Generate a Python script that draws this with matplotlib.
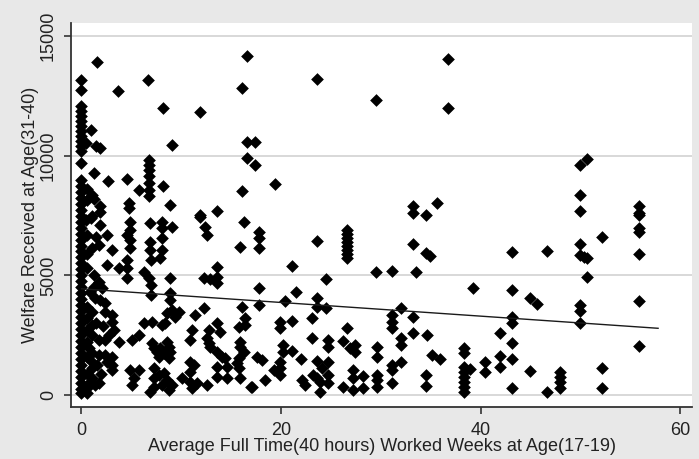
import matplotlib
matplotlib.use("Agg")
import matplotlib.pyplot as plt

plt.rcParams['font.family'] = ['Liberation Sans', 'DejaVu Sans']

# Points on the x = 0 column
col0_welfare = [13170, 12750, 12080, 11870, 11660, 11450, 11240, 11030, 10830, 10620,
                10410, 10200, 9700, 9000, 8750, 8500, 8250, 8000, 7750, 7500, 7250,
                7000, 6750, 6500, 6250, 6000, 5750, 5500, 5250, 5000, 4750, 4500,
                4250, 4000, 3750, 3500, 3250, 3000, 2750, 2500, 2250, 2000, 1750,
                1500, 1250, 1000, 750, 500, 250, 100]

# Points just right of the x = 0 column
col05_welfare = [8600, 5900, 5300, 3700, 3200, 2700, 2200, 1600, 900, 100]

# Remaining points: (weeks, welfare)
points = [
    (1.55, 13920), (16.6, 14170), (3.7, 12700), (6.7, 13170), (16.1, 12830),
    (8.2, 12000), (11.9, 11830), (0.95, 11080), (0.5, 10530), (1.5, 10400),
    (1.9, 10320), (9.1, 10450), (16.6, 10580), (17.4, 10580), (16.6, 9900),
    (17.4, 9600), (6.8, 9820), (6.8, 9610), (6.8, 9400), (6.8, 9150), (6.8, 8860),
    (6.8, 8570), (6.8, 8320), (1.25, 9280), (2.65, 8950), (4.6, 9030), (5.8, 8570),
    (8.2, 8740), (8.9, 7940), (4.8, 8030), (4.8, 7820), (1.05, 8360), (16.1, 8530),
    (19.4, 8820), (13.6, 7690), (11.9, 7520), (1.85, 7900),
    (23.6, 13210), (29.5, 12330), (36.7, 14040), (36.7, 12000), (33.2, 7900),
    (33.2, 7610), (34.5, 7520), (35.6, 8030),
    (50.0, 9610), (50.7, 9860), (50.0, 8360), (50.0, 7690), (55.9, 7900), (55.9, 7610),
    (43.2, 5980), (46.7, 6020), (50.0, 6310), (50.0, 5850), (50.4, 5770), (50.7, 5730),
    (52.2, 6600), (55.9, 7520), (55.9, 6980), (55.9, 6810), (55.9, 5890), (50.7, 4930),
    (43.2, 4390), (45.0, 4050), (45.7, 3800), (50.0, 3760), (50.0, 3510), (50.0, 3010),
    (55.9, 3930), (43.2, 3260), (43.2, 3010), (42.0, 2590), (43.2, 2170), (55.9, 2050),
    (42.0, 1630), (42.0, 1170), (43.2, 1500), (45.0, 1000), (48.0, 960), (48.0, 750),
    (48.0, 540), (48.0, 290), (52.2, 1130), (52.2, 290), (46.7, 130), (43.2, 290),
    (23.6, 6440), (26.6, 6900), (26.6, 6730), (26.6, 6560), (26.6, 6400), (26.6, 6230),
    (26.6, 6060), (26.6, 5890), (26.6, 5730), (33.2, 6310), (34.5, 5940), (34.9, 5810),
    (21.1, 5390), (24.5, 4850), (29.5, 5140), (31.1, 5180), (33.5, 5140), (39.2, 4470),
    (21.5, 4300), (20.4, 3930), (23.6, 4050), (23.6, 3680), (24.5, 3640), (32.0, 3640),
    (31.1, 3340), (31.1, 3050), (31.1, 2800), (33.2, 3260), (19.9, 3050), (19.9, 2800),
    (21.1, 3090), (23.1, 3220), (26.6, 2800), (33.2, 2590), (34.6, 2510), (23.1, 2380),
    (24.7, 2300), (24.7, 2010), (26.2, 2260), (26.9, 1960), (27.4, 1800), (27.4, 2090),
    (32.0, 2380), (32.0, 2090), (29.6, 2010), (29.6, 1590), (20.2, 2090), (20.2, 1800),
    (21.1, 1840), (35.1, 1670), (35.9, 1500), (38.3, 1960), (38.3, 1760), (40.4, 1380),
    (40.4, 960), (22.0, 1500), (23.6, 1420), (24.7, 1380), (24.1, 1130), (23.6, 710),
    (23.2, 840), (24.7, 840), (23.9, 540), (24.7, 500), (23.9, 130), (22.1, 630),
    (22.4, 420), (19.9, 1380), (19.9, 1130), (19.9, 840), (31.1, 1250), (31.1, 1050),
    (31.1, 500), (32.0, 1380), (27.2, 1050), (27.2, 710), (28.2, 790), (27.2, 210),
    (28.2, 290), (26.2, 330), (29.6, 840), (29.6, 630), (29.6, 330), (34.5, 840),
    (34.5, 380), (38.3, 1170), (38.3, 960), (38.3, 750), (38.3, 540), (38.3, 330),
    (38.3, 130), (38.9, 1090),
    (4.9, 7230), (4.9, 6900), (4.6, 6690), (6.9, 7190), (8.1, 7230), (8.1, 6980),
    (9.1, 7020), (11.9, 7440), (12.4, 7020), (12.6, 6690), (16.3, 7230), (17.8, 6810),
    (17.8, 6560), (17.8, 6140), (15.9, 6190), (0.55, 6690), (1.85, 7110), (2.55, 6690),
    (1.75, 6270), (3.05, 6060), (1.05, 6140), (4.9, 6140), (4.9, 6480), (6.9, 6400),
    (6.9, 6060), (8.1, 6560), (8.1, 6060), (7.9, 5730), (7.0, 5640), (2.55, 5430),
    (3.75, 5310), (4.6, 5640), (4.6, 5310), (4.6, 4890), (6.3, 5140), (6.8, 4890),
    (7.0, 4600), (7.0, 4180), (8.9, 4890), (13.6, 5350), (13.6, 4930), (13.6, 4680),
    (12.3, 4890), (12.9, 4850), (1.25, 5020), (1.75, 4720), (1.25, 4510), (2.05, 4470),
    (17.8, 4470), (8.9, 4260), (8.9, 3970), (9.1, 3550), (9.8, 3470), (8.6, 3430),
    (9.4, 3260), (8.4, 3010), (8.1, 2930), (7.1, 3050), (6.3, 3010), (12.3, 3640),
    (16.1, 3680), (17.8, 3760), (16.4, 3220), (16.4, 2930), (15.8, 2840), (11.4, 3340),
    (13.6, 3010), (13.9, 2630), (11.1, 2720), (10.9, 2300), (12.8, 2720), (12.6, 2380),
    (12.8, 2170), (12.9, 2010), (15.9, 2220), (15.9, 2010), (16.3, 1800), (13.6, 1800),
    (14.1, 1590), (14.4, 1550), (17.6, 1590), (18.1, 1460), (19.3, 1050), (15.8, 1550),
    (15.6, 1340), (15.8, 1130), (13.6, 1170), (14.6, 1170), (13.6, 750), (14.6, 710),
    (15.9, 710), (17.1, 330), (18.4, 630),
    (3.05, 3340), (3.05, 3050), (3.25, 2720), (2.75, 2510), (2.35, 2300), (3.75, 2220),
    (5.05, 2300), (5.75, 2510),
    (7.1, 2170), (7.3, 1960), (7.6, 1800), (7.9, 1960), (8.3, 1760), (8.6, 2220),
    (8.8, 2010), (8.9, 1800), (7.8, 1590), (8.8, 1550),
    (3.05, 1590), (3.05, 1250), (3.05, 1050), (2.55, 1380), (4.9, 1050), (5.75, 1050),
    (5.05, 420), (5.25, 710), (7.3, 1130), (7.3, 710), (7.8, 840), (8.3, 920),
    (8.6, 630), (9.1, 420), (7.3, 330), (6.9, 130), (8.1, 420), (8.8, 210),
    (10.1, 710), (10.9, 960), (10.9, 540), (11.6, 500), (11.1, 290), (12.6, 420),
    (11.3, 1250), (10.9, 1380), (17.0, 330), (1.05, 710), (1.75, 500), (0.85, 540),
    (0.85, 4300), (1.35, 4050), (1.85, 3970), (2.35, 3850), (1.05, 3470), (2.35, 3470),
    (1.05, 2930), (1.05, 2510), (1.75, 2300), (0.75, 1960), (1.05, 1760), (1.75, 1670),
    (2.35, 1670), (1.05, 1380), (1.55, 1250), (1.05, 1130), (0.55, 290), (1.35, 420),
    (0.55, 8150), (1.25, 8200), (1.85, 7650), (1.05, 7500), (0.5, 7300), (1.0, 7400),
    (1.5, 3000), (2.0, 900), (2.2, 2900), (1.5, 6600),
]

# Fitted regression line end points
fit_weeks = [0.0, 57.8]
fit_welfare = [4440, 2790]

x_ticks = [0, 20, 40, 60]
y_ticks = [0, 5000, 10000, 15000]
x_label = "Average Full Time(40 hours) Worked Weeks at Age(17-19)"
y_label = "Welfare Received at Age(31-40)"

weeks = ([0.0] * len(col0_welfare) + [0.6] * len(col05_welfare)
         + [p[0] for p in points])
welfare = list(col0_welfare) + list(col05_welfare) + [p[1] for p in points]

bg = "#e8e8e8"
fig = plt.figure(figsize=(6.99, 4.59), dpi=100, facecolor=bg)
ax = fig.add_axes([71 / 699, 1 - 407 / 459, (692 - 71) / 699, (407 - 23) / 459])
ax.set_facecolor("white")

ax.scatter(weeks, welfare, marker="D", s=42, color="black", linewidths=0, zorder=3)
ax.plot(fit_weeks, fit_welfare, color="#1a1a1a", lw=1.0, zorder=4)

ax.set_xlim(-1.05, 61.2)
ax.set_ylim(-500, 15550)
ax.set_xticks(x_ticks)
ax.set_yticks(y_ticks)
ax.grid(axis="y", color="#d8d8d8", lw=1.4)
ax.set_axisbelow(True)
for s in ["top", "right"]:
    ax.spines[s].set_visible(False)
for s in ["left", "bottom"]:
    ax.spines[s].set_color("#333333")
    ax.spines[s].set_linewidth(1.3)
ax.tick_params(axis="both", direction="out", length=5, width=1.2, color="#333333",
               labelsize=13, labelcolor="#222222")
ax.tick_params(axis="x", pad=6)
ax.tick_params(axis="y", pad=5)
for lab in ax.get_yticklabels():
    lab.set_rotation(90)
    lab.set_va("center")
ax.set_xlabel(x_label, fontsize=13, color="#222222", labelpad=-1)
ax.set_ylabel(y_label, fontsize=13, color="#222222", labelpad=1)

fig.savefig("out.png", dpi=100, facecolor=bg)
